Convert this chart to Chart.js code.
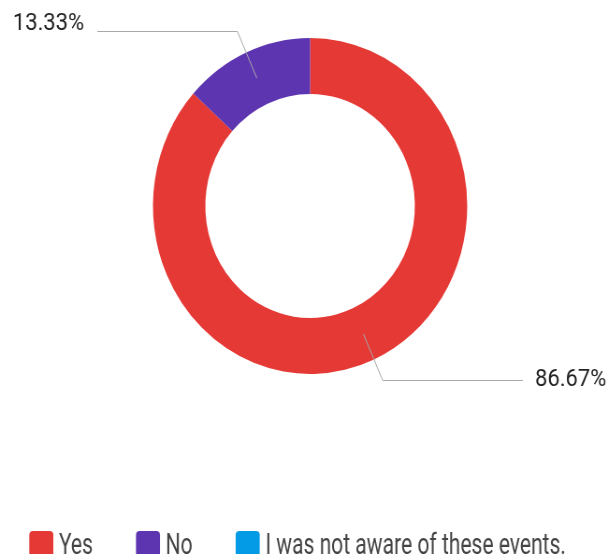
<!DOCTYPE html>
<html><head><meta charset="utf-8">
<script src="https://cdn.jsdelivr.net/npm/chart.js@4.4.1/dist/chart.umd.min.js"></script>
<style>
html,body{margin:0;padding:0;background:#fff;overflow:hidden;width:608px;height:554px}
#wrap{position:absolute;left:0;top:0;width:650px;height:554px;transform:scaleX(0.9354);transform-origin:0 0}
</style></head><body>
<div id="wrap"><canvas id="c"></canvas></div>
<script>
const categories = ['Yes', 'No', 'I was not aware of these events.'];
const responses = [13, 2, 0];
const sliceColors = ['#e53935', '#5e35b1', '#039be5'];

const leaderLabels = {
  id: 'leaderLabels',
  afterDatasetsDraw(chart) {
    const ctx = chart.ctx;
    const meta = chart.getDatasetMeta(0);
    const data = chart.data.datasets[0].data;
    const total = data.reduce((a, b) => a + b, 0);
    meta.data.forEach((arc, i) => {
      if (!data[i]) return;
      const p = arc.getProps(['x', 'y', 'startAngle', 'endAngle', 'innerRadius', 'outerRadius'], true);
      const mid = (p.startAngle + p.endAngle) / 2;
      const rm = (p.innerRadius + p.outerRadius) / 2;
      const x0 = p.x + Math.cos(mid) * rm, y0 = p.y + Math.sin(mid) * rm;
      const re = p.outerRadius + 23;
      const x1 = p.x + Math.cos(mid) * re, y1 = p.y + Math.sin(mid) * re;
      const right = Math.cos(mid) >= 0;
      const xe = p.x + (right ? 1 : -1) * 227.5;
      ctx.save();
      ctx.strokeStyle = '#a8a8a8';
      ctx.lineWidth = 1;
      ctx.beginPath();
      ctx.moveTo(x0, y0); ctx.lineTo(x1, y1); ctx.lineTo(xe, y1);
      ctx.stroke();
      const txt = (data[i] / total * 100).toFixed(2) + '%';
      ctx.font = '23.5px Roboto';
      ctx.fillStyle = '#222222';
      ctx.textBaseline = 'middle';
      ctx.textAlign = right ? 'left' : 'right';
      const tx = xe + (right ? 13 : -14);
      const ty = y1 + (Math.sin(mid) < 0 ? -7.5 : 0);
      ctx.translate(tx, ty);
      ctx.scale(1.0, 1);
      ctx.fillText(txt, 0, 0);
      ctx.restore();
    });
  }
};

const bottomLegend = {
  id: 'bottomLegend',
  afterDraw(chart) {
    const ctx = chart.ctx;
    const colors = chart.data.datasets[0].backgroundColor;
    let xx = 31.3;
    const box = 25.7, top = 531, base = 554, sx = 0.75;
    ctx.save();
    ctx.font = '30px Roboto';
    chart.data.labels.forEach((lab, i) => {
      ctx.fillStyle = colors[i];
      ctx.beginPath();
      ctx.roundRect(xx, top, box, box, 4);
      ctx.fill();
      xx += box + 6;
      const w = ctx.measureText(lab).width * sx;
      ctx.save();
      ctx.translate(xx, base);
      ctx.scale(sx, 1);
      ctx.fillStyle = '#444444';
      ctx.textBaseline = 'alphabetic';
      ctx.textAlign = 'left';
      ctx.fillText(lab, 0, 0);
      ctx.restore();
      xx += w + 46;
    });
    ctx.restore();
  }
};

new Chart(document.getElementById('c'), {
  type: 'doughnut',
  data: {
    labels: categories,
    datasets: [{
      data: responses,
      backgroundColor: sliceColors,
      borderWidth: 0,
      hoverOffset: 0
    }]
  },
  options: {
    responsive: true,
    maintainAspectRatio: false,
    animation: false,
    cutout: '66.67%',
    layout: { padding: { top: 38, bottom: 180, left: 13, right: 0 } },
    plugins: { legend: { display: false }, tooltip: { enabled: false } }
  },
  plugins: [leaderLabels, bottomLegend]
});
</script>
</body></html>
